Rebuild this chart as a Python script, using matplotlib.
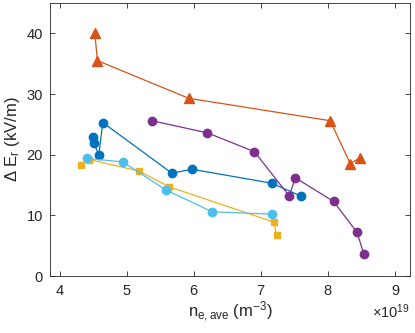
import matplotlib
matplotlib.use("Agg")
import matplotlib.pyplot as plt
from matplotlib.ticker import ScalarFormatter

plt.rcParams['font.family'] = ['Liberation Sans', 'DejaVu Sans']
plt.rcParams['mathtext.fontset'] = 'custom'
plt.rcParams['mathtext.rm'] = 'Liberation Sans'
plt.rcParams['mathtext.it'] = 'Liberation Sans'

# data (density in m^-3, dEr in kV/m)
ne_orange = [4.52e19, 4.56e19, 5.92e19, 8.03e19, 8.33e19, 8.47e19]
er_orange = [40.1, 35.5, 29.3, 25.6, 18.5, 19.5]

ne_blue = [4.50e19, 4.51e19, 4.58e19, 4.64e19, 5.67e19, 5.97e19, 7.16e19, 7.59e19]
er_blue = [22.9, 21.9, 19.9, 25.3, 16.95, 17.6, 15.3, 13.2]

ne_purple = [5.37e19, 6.20e19, 6.90e19, 7.42e19, 7.51e19, 8.08e19, 8.43e19, 8.53e19]
er_purple = [25.6, 23.6, 20.5, 13.2, 16.2, 12.3, 7.2, 3.7]

ne_yellow = [4.32e19, 4.44e19, 5.18e19, 5.63e19, 7.19e19, 7.23e19]
er_yellow = [18.3, 19.2, 17.3, 14.7, 8.9, 6.75]

ne_light = [4.40e19, 4.94e19, 5.58e19, 6.27e19, 7.16e19]
er_light = [19.4, 18.8, 14.2, 10.6, 10.2]

xticks = [4e19, 5e19, 6e19, 7e19, 8e19, 9e19]
yticks = [0, 10, 20, 30, 40]

fig = plt.figure(figsize=(4.15, 3.33), dpi=100)
ax = fig.add_axes([0.12, 0.171, 0.868, 0.82])

lw = 0.9
ms = 6
ax.plot(ne_orange, er_orange, '-^', color='#D95319', lw=lw, ms=ms + 0.5)
ax.plot(ne_blue, er_blue, '-o', color='#0072BD', lw=lw, ms=ms)
ax.plot(ne_purple, er_purple, '-o', color='#7E2F8E', lw=lw, ms=ms)
ax.plot(ne_yellow, er_yellow, '-s', color='#EDB120', lw=lw, ms=ms - 1)
ax.plot(ne_light, er_light, '-o', color='#4DBEEE', lw=lw, ms=ms)

ax.set_xlim(3.85e19, 9.22e19)
ax.set_ylim(0, 45)
ax.set_xticks(xticks)
ax.set_yticks(yticks)

fmt = ScalarFormatter(useMathText=True)
fmt.set_powerlimits((0, 0))
ax.xaxis.set_major_formatter(fmt)
ax.xaxis.get_offset_text().set_fontsize(10.5)
ax.xaxis.get_offset_text().set_color('#262626')

gray = '#262626'
for s in ax.spines.values():
    s.set_color(gray)
    s.set_linewidth(0.6)
ax.tick_params(direction='in', top=True, right=True, colors=gray, labelsize=10.5,
               length=3.5, width=0.6)
ax.tick_params(axis='x', pad=6)
ax.tick_params(axis='y', pad=5)

ax.set_xlabel(r'n$_{\mathrm{e,ave}}$ (m$^{-3}$)', fontsize=12, color=gray, labelpad=1)
ax.set_ylabel(r'$\Delta$ E$_{\mathrm{r}}$ (kV/m)', fontsize=12, color=gray, labelpad=3)

fig.savefig('out.png', dpi=100)
